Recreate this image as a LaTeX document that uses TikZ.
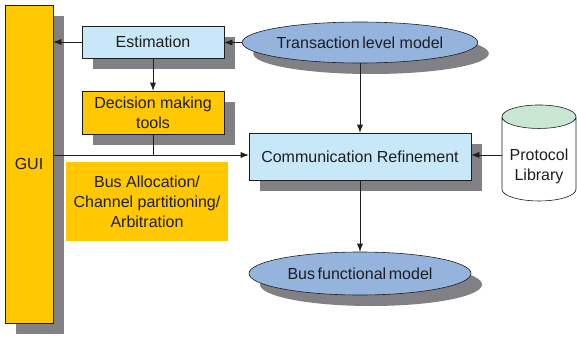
\documentclass[tikz,border=0pt]{standalone}
\usepackage{fontspec}
\setmainfont{Liberation Sans}
\usepackage{tikz}
\usetikzlibrary{positioning,calc}
\usetikzlibrary{arrows.meta}
\usetikzlibrary{shapes.geometric,shadows}

\definecolor{guigold}{RGB}{255,200,0}
\definecolor{blockblue}{RGB}{200,232,250}
\definecolor{modelblue}{RGB}{148,180,222}
\definecolor{shadowgray}{RGB}{128,128,133}
\definecolor{libgreen}{RGB}{201,230,211}
\definecolor{inkgray}{RGB}{30,30,30}

\begin{document}
\begin{tikzpicture}[x=1pt,y=-1pt,>={Latex[length=8pt,width=6pt]},
                semithick, draw=inkgray, text=inkgray,
                font=\fontsize{16}{20}\selectfont,
                shade/.style={drop shadow={shadow xshift=11pt,shadow yshift=-11pt,
                              fill=shadowgray,opacity=1}},
                blockbox/.style={draw=inkgray,fill=blockblue,rectangle,shade,
                                 inner sep=0pt,align=center},
                goldbox/.style={draw=inkgray,fill=guigold,rectangle,shade,
                                inner sep=0pt,align=center},
                modelellipse/.style={draw=inkgray,fill=modelblue,ellipse,shade,
                                     inner sep=0pt,minimum width=222pt}]

\useasboundingbox (0,0) rectangle (577,337);

\node[goldbox,minimum width=48pt,minimum height=318pt] (gui) at (29,164) {GUI};
\node[blockbox,minimum width=142pt,minimum height=32pt] (est) at (153,42) {Estimation};
\node[goldbox,minimum width=142pt,minimum height=43pt] (dec) at (153,112.5)
     {Decision making\\tools};
\node[fill=guigold,inner sep=0pt,align=center,minimum width=162pt,minimum height=79pt]
     (alloc) at (147,201.5) {Bus Allocation/\\Channel partitioning/\\Arbitration};
\node[blockbox,minimum width=222pt,minimum height=47pt] (comm) at (360,156.5)
     {Communication Refinement};
\node[modelellipse,minimum height=41pt] (tlm) at (360,42.5) {Transaction\,level model};
\node[modelellipse,minimum height=43pt] (bfm) at (360,273.5) {Bus\,functional\,model};
\node[cylinder,shape border rotate=90,aspect=0.4,draw=inkgray,
      cylinder uses custom fill,cylinder end fill=libgreen,cylinder body fill=white,
      minimum width=74pt,minimum height=96pt,inner sep=0pt]
     (lib) at (539,159)
     {\raisebox{-7pt}[\height][\depth]{\begin{tabular}{@{}c@{}}Protocol\\Library\end{tabular}}};

\draw[->] (tlm.west) -- (tlm.west -| est.east);
\draw[->] (est.west) -- (est.west -| gui.east);
\draw[->] (est.south) -- (dec.north);
\draw[->] (tlm.south) -- (comm.north);
\draw[->] (lib.west |- 0,155) -- (comm.east |- 0,155);
\draw[->] (comm.south) -- (bfm.north);
\draw[->] (gui.east |- 0,155) -- (comm.west |- 0,155);
\draw (dec.south) -- (dec.south |- 0,155);

\end{tikzpicture}
\end{document}
